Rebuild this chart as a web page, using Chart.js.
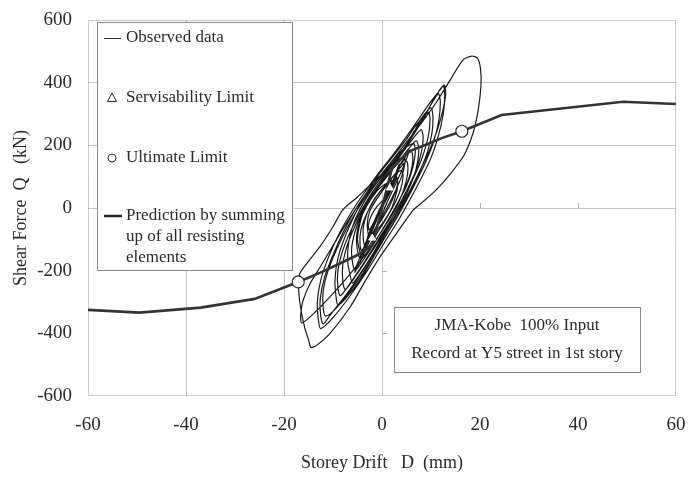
<!DOCTYPE html>
<html>
<head>
<meta charset="utf-8">
<script src="https://cdn.jsdelivr.net/npm/chart.js@4.4.1/dist/chart.umd.min.js"></script>
<style>
  html, body { margin: 0; padding: 0; background: #fff; }
  #wrap { width: 688px; height: 477px; }
</style>
</head>
<body>
<div id="wrap"><canvas id="hyst-chart" width="688" height="477"></canvas></div>
<script>
// tick labels
const driftTicks = [-60, -40, -20, 0, 20, 40, 60];
const shearTicks = [-600, -400, -200, 0, 200, 400, 600];

// observed hysteresis, [drift mm, shear kN]
const observed = [
  [0,0],[1.5,45],[2.7,85],
  [3,100],[3.2,80],[2.6,45],[1.5,5],[0,-35],[-2,-85],[-3.5,-120],[-3.8,-100],[-3.8,-60],[-3,-15],[-1.5,30],[0.5,70],[2.5,105],
  [4,120],[4.3,100],[3.8,60],[2.6,15],[1,-30],[-1,-80],[-3,-130],[-4.5,-160],[-5,-135],[-5.2,-90],[-4.5,-40],[-3,10],[-1,55],[1,80],
  [3,90],[3.2,70],[2.8,40],[2,0],[0.5,-40],[-1.5,-80],[-2.5,-100],[-2.8,-85],[-3,-50],[-2.5,-10],[-1,30],[1.5,85],[3.5,125],
  [5,150],[5.3,125],[5,90],[4,40],[2.5,-10],[0.5,-60],[-2,-120],[-4,-160],[-4.5,-140],[-5,-100],[-4.5,-50],[-3.5,0],[-1.5,50],[1,100],[3.5,150],
  [6,180],[6.3,155],[5.8,110],[4.6,60],[3,10],[1,-45],[-1.5,-110],[-4,-170],[-5.5,-200],[-6,-175],[-6.2,-130],[-5.5,-75],[-4.2,-20],[-2.5,30],[0,85],[3,140],[5.5,190],
  [7,215],[7.5,190],[7.3,150],[6.5,100],[5,45],[3,-15],[0.5,-80],[-2,-150],[-4.5,-210],[-6,-240],[-6.5,-215],[-7,-170],[-6.8,-110],[-5.8,-50],[-4,10],[-2,60],[1,120],[4,175],[6.5,225],
  [8,250],[8.4,225],[8,175],[6.8,115],[5,55],[3,-5],[0.5,-75],[-2.5,-150],[-5.5,-220],[-7.5,-260],[-8,-235],[-8,-180],[-7,-115],[-5.3,-50],[-3.3,10],[-1,65],[2,130],[5,195],[6.5,245],[6.2,232],[8,285],
  [10,320],[10.4,290],[10.2,240],[9.3,180],[7.8,120],[6,60],[4,0],[1.5,-70],[-1.5,-150],[-4.5,-230],[-7.5,-290],[-9,-310],[-9.4,-280],[-9.6,-230],[-9,-160],[-7.5,-90],[-5.5,-20],[-3.5,40],[-1,100],[2,160],[5,220],[7,265],
  [9.5,305],[9.8,280],[9.4,225],[8.3,165],[6.7,105],[4.8,45],[2.5,-20],[-0.5,-95],[-3.5,-170],[-6.5,-240],[-8.5,-280],[-9,-255],[-9,-200],[-8,-135],[-6.3,-70],[-4.3,-10],[-2,50],[1,115],[4,180],[7,250],[8.5,290],[8.2,275],[10.5,345],
  [12.5,390],[12.8,360],[12.5,300],[11.5,230],[10,160],[8,95],[6,35],[3.5,-35],[0.5,-110],[-3,-200],[-6.5,-280],[-10,-350],[-12.5,-385],[-13,-355],[-13.2,-300],[-12.5,-230],[-11,-160],[-9,-90],[-6.5,-20],[-4,40],[-1,105],[2.5,175],[6,250],[9.5,330],[11.5,370],
  [12.7,392],[13,365],[12.4,310],[11.2,245],[9.6,180],[7.6,115],[5.5,50],[3,-20],[0,-100],[-3.5,-190],[-7,-270],[-10.5,-340],[-12,-370],[-12.5,-345],[-12.6,-290],[-11.7,-220],[-10,-150],[-8,-80],[-5.8,-15],[-3.3,45],[0,110],[4,190],[8,270],[11,335],[13.9,408],[16.5,472],
  [18.3,485],[19.5,478],[20.1,445],[20.2,390],[19.6,310],[18.6,240],[16.8,170],[14,110],[11,57],[8,15],[6.4,-6],[3,-80],[-0.4,-156],[-3.5,-235],[-6.5,-316],[-10.6,-400],[-13.5,-440],[-14.5,-445],[-15,-420],[-15.8,-380],[-16.6,-320],[-17,-260],[-16.8,-210],[-15,-170],[-12.7,-124],[-10,-60],[-8,-6],[-5,35],[-2,80],[1,125],[4.5,190],[7.5,260],[10,330],
  [11.5,365],[11.9,340],[11.6,280],[10.6,215],[9,150],[7,85],[5,25],[2.5,-45],[-0.5,-120],[-4,-210],[-7.5,-285],[-10,-330],[-11.5,-345],[-12,-320],[-12,-265],[-11,-200],[-9.2,-130],[-7,-60],[-4.8,0],[-2.5,55],[0.5,120],[3.5,175],[5.5,200],
  [6.5,205],[6.8,180],[6.3,130],[5,70],[3,10],[0.5,-60],[-3,-140],[-7,-220],[-11,-290],[-14.5,-345],[-16.4,-367],[-16.6,-345],[-16.2,-300],[-14.8,-245],[-12.5,-185],[-10,-120],[-7.5,-55],[-5,5],[-2.5,60],[0.5,115],[3,150],
  [4.5,165],[4.7,145],[4,100],[2.6,50],[1,0],[-1,-55],[-3,-110],[-4.2,-135],[-4.5,-110],[-4.3,-70],[-3.3,-25],[-1.8,20],[0,60],[1.8,90],[2,80],[1.3,45],[0,5],[-1.5,-40],[-2.6,-70],[-2.8,-55],[-2.2,-25],[-1,5],
  [1,40],[2.5,90],[2,70],[3.5,130],[3,105],[1.5,50],[2,65],[0,0],[-1.5,-50],[-1,-35],[-3,-110],[-2.5,-90],[-4,-150],[-3.8,-130],[-2.5,-80],[-3,-95],[-1.5,-40],[0,10],[-0.5,-5],
  [1.5,60],[3,115],[4.5,160],[4,140],[5.5,185],[5.2,165],[3.8,110],[4.2,125],[2,50],[0.5,0],[1,15],[-1,-55],[-2.5,-105],[-2,-85],[-4.5,-175],[-4.2,-160],[-5.5,-205],[-5.2,-185],[-3.8,-130],[-4.2,-145],[-2.5,-80],[-1,-30],[-1.5,-40],
  [0.5,30],[2,85],[1.8,70],[3.5,140],[3.2,120],[1.5,55],[0,5],[-2,-65],[-1.8,-55],[-3.5,-125],[-3,-100],[-1.5,-45],[0,10]
];

// prediction by summing up of all resisting elements
const predDrift = [-60, -49.5, -37, -26, -17.1, -12.7, -8.6, -5, -2, 0, 2, 5.3, 8.8, 12.2, 16.3, 24.4, 49.2, 60];
const predShear = [-325, -334, -318, -290, -236, -207, -177, -150, -120, 0, 125, 179, 201, 223, 245, 297, 339, 332];

// limit points
const serviceDrift = [1.6, -2];
const serviceShear = [64, -96];
const ultimateDrift = [-17.1, 16.3];
const ultimateShear = [-236, 245];

const legendLines = ["Observed data", "Servisability Limit", "Ultimate Limit",
                     "Prediction by summing", "up of all resisting", "elements"];
const noteLines = ["JMA-Kobe  100% Input", "Record at Y5 street in 1st story"];

const serif = '"Liberation Serif", "Times New Roman", serif';
const ink = '#2a2a2a';

function pairs(xs, ys) { return xs.map((x, i) => ({ x: x, y: ys[i] })); }

const boxesPlugin = {
  id: 'boxes',
  beforeDatasetsDraw(chart) {
    const c = chart.ctx, a = chart.chartArea;
    const sx = chart.scales.x, sy = chart.scales.y;
    c.save();
    // dotted frame
    c.strokeStyle = '#9a9a9a';
    c.lineWidth = 1;
    c.setLineDash([1, 1]);
    c.strokeRect(a.left + 0.5, a.top + 0.5, a.right - a.left - 1, a.bottom - a.top - 1);
    c.setLineDash([]);
    // little ticks where the zero axes cross
    c.strokeStyle = '#b0b0b0';
    const x0 = sx.getPixelForValue(0), y0 = sy.getPixelForValue(0);
    [20, 40].forEach(v => {
      const px = Math.round(sx.getPixelForValue(v)) + 0.5;
      c.beginPath(); c.moveTo(px, y0 - 5); c.lineTo(px, y0); c.stroke();
    });
    [-200, -400].forEach(v => {
      const py = Math.round(sy.getPixelForValue(v)) + 0.5;
      c.beginPath(); c.moveTo(x0, py); c.lineTo(x0 + 5, py); c.stroke();
    });
    c.restore();
  },
  afterDraw(chart) {
    const c = chart.ctx;
    c.save();
    // legend box
    c.fillStyle = '#fff';
    c.strokeStyle = '#8a8a8a';
    c.lineWidth = 1;
    c.fillRect(97, 22, 195, 248);
    c.strokeRect(97.5, 22.5, 195, 248);
    c.font = '17px ' + serif;
    c.fillStyle = ink;
    c.textBaseline = 'middle';
    c.textAlign = 'left';
    const tx = 126;
    const rows = [38, 98, 158, 216, 237, 258];
    legendLines.forEach((t, i) => c.fillText(t, tx, rows[i]));
    c.strokeStyle = ink;
    c.lineWidth = 1;
    c.beginPath(); c.moveTo(104, 38.5); c.lineTo(121, 38.5); c.stroke();
    c.beginPath();
    c.moveTo(112, 93); c.lineTo(116.5, 101.5); c.lineTo(107.5, 101.5); c.closePath(); c.stroke();
    c.beginPath(); c.arc(112, 158, 4, 0, Math.PI * 2); c.stroke();
    c.lineWidth = 2.5;
    c.beginPath(); c.moveTo(104, 216); c.lineTo(122, 216); c.stroke();
    // note box
    c.fillStyle = '#fff';
    c.strokeStyle = '#8a8a8a';
    c.lineWidth = 1;
    c.fillRect(394, 307, 246, 65);
    c.strokeRect(394.5, 307.5, 246, 65);
    c.fillStyle = ink;
    c.textAlign = 'center';
    c.font = '17px ' + serif;
    c.fillText(noteLines[0], 517, 326);
    c.fillText(noteLines[1], 517, 354);
    c.restore();
  }
};

new Chart(document.getElementById('hyst-chart'), {
  type: 'scatter',
  data: {
    datasets: [
      {
        label: 'Ultimate Limit',
        data: pairs(ultimateDrift, ultimateShear),
        pointStyle: 'circle',
        pointRadius: 6,
        pointBackgroundColor: '#fff',
        pointBorderColor: ink,
        pointBorderWidth: 1.2,
        order: 0
      },
      {
        label: 'Servisability Limit',
        data: pairs(serviceDrift, serviceShear),
        pointStyle: 'triangle',
        pointRadius: 4,
        pointBackgroundColor: '#fff',
        pointBorderColor: '#fff',
        pointBorderWidth: 1,
        order: 1
      },
      {
        label: 'Prediction',
        data: pairs(predDrift, predShear),
        showLine: true,
        borderColor: '#333',
        borderWidth: 2.6,
        pointRadius: 0,
        tension: 0,
        order: 2
      },
      {
        label: 'Observed data',
        data: observed.map(p => ({ x: p[0], y: p[1] })),
        showLine: true,
        borderColor: '#1a1a1a',
        borderWidth: 1.2,
        pointRadius: 0,
        tension: 0.25,
        order: 3
      }
    ]
  },
  plugins: [boxesPlugin],
  options: {
    responsive: false,
    animation: false,
    layout: { padding: { top: 20, right: 12, left: 0, bottom: 0 } },
    plugins: { legend: { display: false }, tooltip: { enabled: false } },
    scales: {
      x: {
        type: 'linear',
        min: -60, max: 60,
        afterBuildTicks: s => { s.ticks = driftTicks.map(v => ({ value: v })); },
        afterFit: s => { s.height = 81; s.paddingLeft = 0; s.paddingRight = 0; },
        ticks: { color: ink, font: { family: serif, size: 19 }, padding: 18, maxRotation: 0 },
        grid: {
          drawTicks: false,
          color: ctx => (ctx.tick && [-40, -20, 0].includes(ctx.tick.value)) ? '#c4c4c4' : 'rgba(0,0,0,0)'
        },
        border: { display: false },
        title: { display: true, text: 'Storey Drift   D  (mm)', color: ink,
                 font: { family: serif, size: 18 }, padding: { top: 4, bottom: 3 } }
      },
      y: {
        type: 'linear',
        min: -600, max: 600,
        afterBuildTicks: s => { s.ticks = shearTicks.map(v => ({ value: v })); },
        afterFit: s => { s.width = 88; s.paddingTop = 0; s.paddingBottom = 0; },
        ticks: { color: ink, font: { family: serif, size: 19 }, padding: 16 },
        grid: {
          drawTicks: false,
          color: ctx => (ctx.tick && [0, 200, 400].includes(ctx.tick.value)) ? '#c4c4c4' : 'rgba(0,0,0,0)'
        },
        border: { display: false },
        title: { display: true, text: 'Shear Force  Q   (kN)', color: ink,
                 font: { family: serif, size: 18 }, padding: { top: 10, bottom: 4 } }
      }
    }
  }
});
</script>
</body>
</html>
